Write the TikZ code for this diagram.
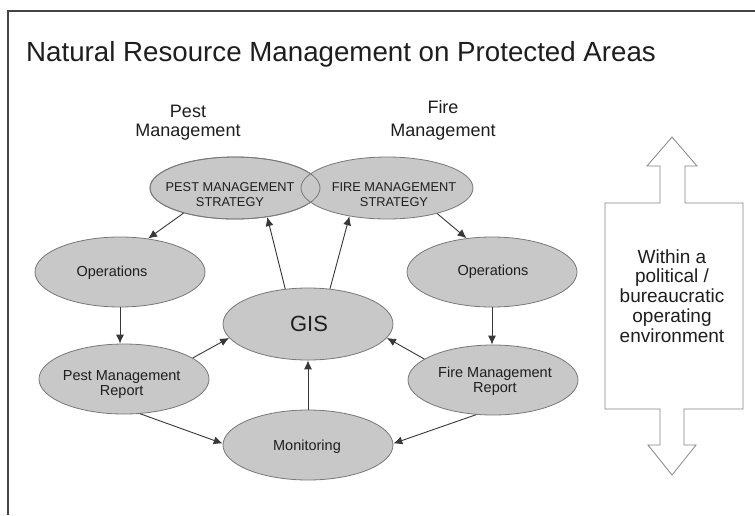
\documentclass[tikz,border=0pt]{standalone}
\usepackage{fontspec}
\setmainfont{Liberation Sans}
\usetikzlibrary{shapes.geometric,arrows.meta}
\definecolor{ellfill}{HTML}{C8C8C8}
\definecolor{ellline}{HTML}{787878}
\definecolor{arrline}{HTML}{383838}
\definecolor{txt}{HTML}{1E1E1E}
\definecolor{bigline}{HTML}{858585}
\definecolor{framecol}{HTML}{444444}
\begin{document}
\begin{tikzpicture}[x=1pt,y=-1pt,
  ell/.style={ellipse,fill=ellfill,draw=ellline,line width=0.8pt,inner sep=0pt},
  ellborder/.style={draw=ellline,line width=0.8pt},
  arr/.style={draw=arrline,line width=0.9pt,-{Latex[length=9pt,width=8pt]}},
  txtnode/.style={inner sep=0pt,text=txt,align=center},
  smalltxt/.style={txtnode,font=\fontsize{14.5}{15}\selectfont},
  captxt/.style={txtnode,font=\fontsize{12.8}{15}\selectfont},
  hdrtxt/.style={txtnode},
]
\useasboundingbox (0,0) rectangle (755,515);
\fill[white] (0,0) rectangle (755,515);
% frame
\draw[framecol,line width=1.1pt] (755,11) -- (8,11) -- (8,515);
% title
\node[txtnode,anchor=base west,font=\fontsize{27.7}{33}\selectfont] (title) at (26,61) {Natural Resource Management on Protected Areas};
% headers
\node[hdrtxt,font=\fontsize{18}{19}\selectfont] (pesthdr) at (188,122.6) {Pest\\Management};
\node[hdrtxt,font=\fontsize{18}{23.4}\selectfont] (firehdr) at (443,120.5) {Fire\\Management};
% ellipses
\node[ell,minimum width=170pt,minimum height=62pt] (pstrat) at (235,188) {};
\node[ell,minimum width=172pt,minimum height=62pt] (fstrat) at (387,188) {};
\draw[ellborder] (pstrat.center) ellipse [x radius=85pt, y radius=31pt];
\node[ell,minimum width=170pt,minimum height=70pt] (lops) at (120,272) {};
\node[ell,minimum width=170pt,minimum height=70pt] (rops) at (492,272) {};
\node[ell,minimum width=170pt,minimum height=72pt] (gis) at (308,324) {};
\node[ell,minimum width=170pt,minimum height=70pt] (prep) at (124,379) {};
\node[ell,minimum width=170pt,minimum height=70pt] (frep) at (493,380) {};
\node[ell,minimum width=170pt,minimum height=70pt] (mon) at (308,445) {};
% ellipse texts
\node[captxt] (pstrattxt) at (230,194.6) {PEST MANAGEMENT\\STRATEGY};
\node[captxt] (fstrattxt) at (394,194.6) {FIRE MANAGEMENT\\STRATEGY};
\node[smalltxt,anchor=base] (lopstxt) at (112,276.5) {Operations};
\node[smalltxt,anchor=base] (ropstxt) at (493,275) {Operations};
\node[txtnode,font=\fontsize{22}{24}\selectfont] (gistxt) at (309,324) {GIS};
\node[smalltxt] (preptxt) at (121.7,384.2) {Pest Management\\Report};
\node[smalltxt] (freptxt) at (495,381.5) {Fire Management\\Report};
\node[smalltxt,anchor=base] (montxt) at (307,450.7) {Monitoring};
% connectors
\draw[arr] (pstrat.206) -- (lops.50);
\draw[arr] (fstrat.333) -- (rops.127);
\draw[arr] (lops.south) -- (lops.south |- prep.north);
\draw[arr] (rops.south) -- (rops.south |- frep.north);
\draw[arr] (prep.17) -- (gis.190);
\draw[arr] (frep.163) -- (gis.350);
\draw[arr] (prep.295) -- (mon.179);
\draw[arr] (frep.244) -- (mon.1);
\draw[arr] (mon.north) -- (gis.south);
\draw[arr] (gis.123) -- (pstrat.318);
\draw[arr] (gis.58) -- (fstrat.217);
% big double arrow
\draw[bigline,line width=0.8pt,fill=white]
  (672,137) -- (697,166) -- (685,166) -- (685,203) -- (743,203) -- (743,409)
  -- (684,409) -- (684,445) -- (696,445) -- (672,475) -- (648,445) -- (660,445)
  -- (660,409) -- (605,409) -- (605,203) -- (660,203) -- (660,166) -- (647,166) -- cycle;
\node[txtnode,font=\fontsize{19}{19.8}\selectfont] (envtxt) at (672,296) {Within a\\political /\\bureaucratic\\operating\\environment};
\end{tikzpicture}
\end{document}
